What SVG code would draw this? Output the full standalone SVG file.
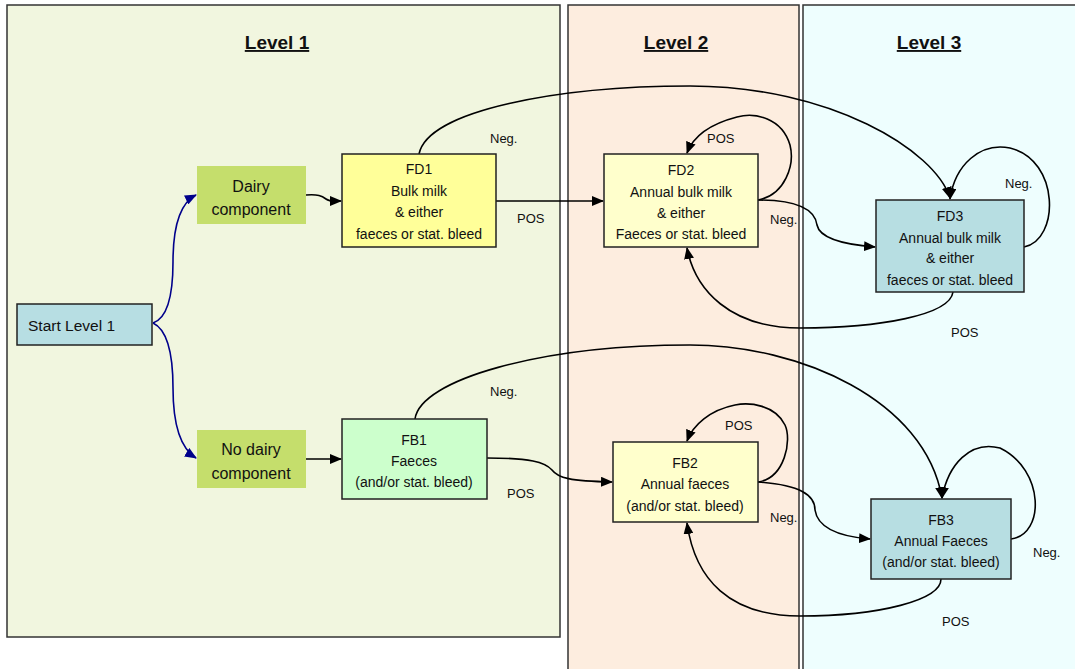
<svg xmlns="http://www.w3.org/2000/svg" width="1075" height="669" viewBox="0 0 1075 669">
<style>
.panel{stroke:#333;stroke-width:1.5}
.box{stroke:#222;stroke-width:1.5}
.t{font-family:"Liberation Sans",Arial,sans-serif;font-size:14px;fill:#111;text-anchor:middle}
.big{font-size:16px}
.lbl{font-family:"Liberation Sans",Arial,sans-serif;font-size:13px;fill:#111}
.hd{font-family:"Liberation Sans",Arial,sans-serif;font-size:19px;font-weight:bold;fill:#111;text-anchor:middle;text-decoration:underline}
.c{fill:none;stroke:#000;stroke-width:1.6;marker-end:url(#ah)}
.cb{fill:none;stroke:#00008B;stroke-width:1.6;marker-end:url(#ahb)}
</style>
<defs>
<marker id="ah" markerWidth="12" markerHeight="10" refX="11" refY="5" orient="auto" markerUnits="userSpaceOnUse"><path d="M0,0 L12,5 L0,10 Z" fill="#000"/></marker>
<marker id="ahb" markerWidth="12" markerHeight="10" refX="11" refY="5" orient="auto" markerUnits="userSpaceOnUse"><path d="M0,0 L12,5 L0,10 Z" fill="#00008B"/></marker>
</defs>
<rect width="1075" height="669" fill="#fff"/>
<g id="panel1"><rect class="panel" x="7" y="5" width="553" height="632" fill="#F1F6DF"/><text class="hd" x="277" y="49">Level 1</text></g>
<g id="panel2"><rect class="panel" x="568" y="5" width="231" height="680" fill="#FDEDDF"/><text class="hd" x="676" y="49">Level 2</text></g>
<g id="panel3"><rect class="panel" x="803" y="5" width="290" height="680" fill="#EEFEFE"/><text class="hd" x="929" y="49">Level 3</text></g>
<g id="connectors">
<path class="cb" d="M153,323 C168,318 173,295 173,262 C173,225 180,203 196,195"/>
<path class="cb" d="M153,323 C168,330 173,355 173,388 C173,425 180,448 196,458"/>
<path class="c" d="M306,195 C318,194 322,196 326,199 C330,202 334,201 341,201"/>
<path class="c" d="M306,459 L341,459"/>
<path class="c" d="M496,201 L603,201"/>
<path class="c" d="M419,154 C428,110 560,86 690,86 C830,86 935,150 950,198"/>
<path class="c" d="M758,200 C785,195 795,165 790,145 C782,118 755,112 737,117 C710,124 693,137 687,153"/>
<path class="c" d="M758,200 C800,200 815,210 817,225 C820,240 850,245 875,247"/>
<path class="c" d="M1024,247 C1060,240 1060,160 1010,148 C980,142 955,165 950,199"/>
<path class="c" d="M953,292 C950,315 880,328 800,328 C730,328 695,290 687,248"/>
<path class="c" d="M487,458 C530,458 545,462 552,470 C558,478 570,481 612,482"/>
<path class="c" d="M415,419 C420,380 540,345 690,345 C800,345 925,400 942,498"/>
<path class="c" d="M758,482 C785,478 792,440 785,425 C775,405 750,402 735,405 C710,410 693,425 687,441"/>
<path class="c" d="M758,482 C800,485 815,495 815,510 C818,530 845,537 870,539"/>
<path class="c" d="M1011,539 C1045,535 1045,470 1000,448 C970,440 948,465 942,498"/>
<path class="c" d="M941,579 C941,600 880,616 800,616 C730,616 695,580 687,523"/>
<text class="lbl" x="490" y="143">Neg.</text>
<text class="lbl" x="517" y="223">POS</text>
<text class="lbl" x="707" y="143">POS</text>
<text class="lbl" x="770" y="224">Neg.</text>
<text class="lbl" x="1005" y="188">Neg.</text>
<text class="lbl" x="951" y="337">POS</text>
<text class="lbl" x="490" y="396">Neg.</text>
<text class="lbl" x="507" y="498">POS</text>
<text class="lbl" x="725" y="430">POS</text>
<text class="lbl" x="770" y="522">Neg.</text>
<text class="lbl" x="1033" y="557">Neg.</text>
<text class="lbl" x="942" y="626">POS</text>
</g>
<g id="start"><rect class="box" x="17" y="304" width="135" height="41" fill="#B7DEE3"/><text class="t big" x="28" y="331" style="text-anchor:start;font-size:15.5px">Start Level 1</text></g>
<g id="dairy"><rect x="197" y="166" width="109" height="58" fill="#C5DE6C"/><text class="t big" x="251" y="192">Dairy</text><text class="t big" x="251" y="215">component</text></g>
<g id="nodairy"><rect x="197" y="430" width="109" height="58" fill="#C5DE6C"/><text class="t big" x="251" y="455">No dairy</text><text class="t big" x="251" y="479">component</text></g>
<g id="FD1"><rect class="box" x="342" y="154" width="154" height="93" fill="#FFFF99"/><text class="t" x="419" y="174">FD1</text><text class="t" x="419" y="196">Bulk milk</text><text class="t" x="419" y="217">&amp; either</text><text class="t" x="419" y="239">faeces or stat. bleed</text></g>
<g id="FB1"><rect class="box" x="342" y="419" width="145" height="80" fill="#CCFFCC"/><text class="t" x="414" y="445">FB1</text><text class="t" x="414" y="466">Faeces</text><text class="t" x="414" y="487">(and/or stat. bleed)</text></g>
<g id="FD2"><rect class="box" x="604" y="154" width="154" height="93" fill="#FFFFCC"/><text class="t" x="681" y="175">FD2</text><text class="t" x="681" y="197">Annual bulk milk</text><text class="t" x="681" y="218">&amp; either</text><text class="t" x="681" y="239">Faeces or stat. bleed</text></g>
<g id="FB2"><rect class="box" x="613" y="442" width="145" height="80" fill="#FFFFCC"/><text class="t" x="685" y="468">FB2</text><text class="t" x="685" y="489">Annual faeces</text><text class="t" x="685" y="511">(and/or stat. bleed)</text></g>
<g id="FD3"><rect class="box" x="876" y="200" width="148" height="92" fill="#B7DEE2"/><text class="t" x="950" y="221">FD3</text><text class="t" x="950" y="243">Annual bulk milk</text><text class="t" x="950" y="263">&amp; either</text><text class="t" x="950" y="285">faeces or stat. bleed</text></g>
<g id="FB3"><rect class="box" x="871" y="499" width="140" height="80" fill="#B7DEE2"/><text class="t" x="941" y="525">FB3</text><text class="t" x="941" y="546">Annual Faeces</text><text class="t" x="941" y="567">(and/or stat. bleed)</text></g>
</svg>
